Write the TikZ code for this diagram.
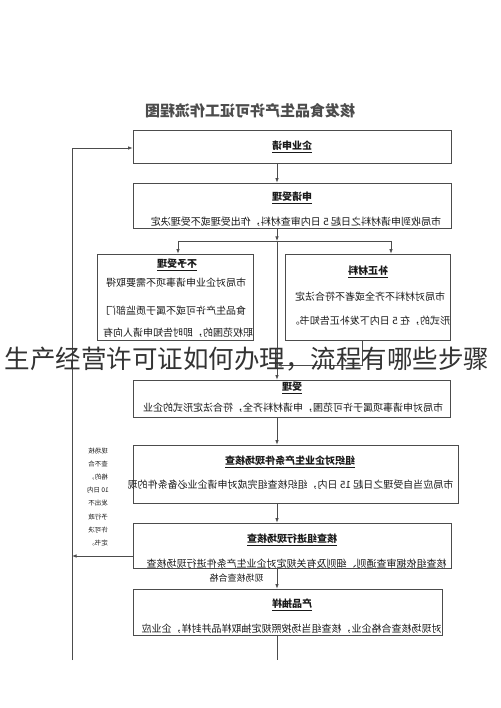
\documentclass[tikz,border=0pt]{standalone}
\usepackage{fontspec}
\usepackage{graphicx}
\usetikzlibrary{arrows.meta}
\newfontfamily\cjk{Noto Sans CJK SC}
\newcommand{\mir}[1]{\reflectbox{#1}}
\tikzstyle{box} = [rectangle, draw=black!70, line width=0.8pt, inner sep=0pt]
\tikzstyle{txt} = [inner sep=0pt, text=black!90, font=\cjk\fontsize{10}{12}\selectfont]
\tikzstyle{head} = [txt, font=\cjk\bfseries\fontsize{10}{12}\selectfont]
\tikzstyle{conn} = [draw=black!70, line width=0.7pt]
\tikzstyle{arr} = [conn, -{Latex[length=4.5pt,width=3.5pt]}]

\begin{document}
\begin{tikzpicture}[x=1pt,y=-1pt]
    \useasboundingbox (0,0) rectangle (500,708);

    \node [txt, text=black!70, font=\cjk\bfseries\fontsize{15}{18}\selectfont] (title) at (250,111) {\mir{核发食品生产许可证工作流程图}};

    % boxes
    \node [box, minimum width=318pt, minimum height=33pt] (apply) at (292,146.5) {};
    \node [box, minimum width=318pt, minimum height=45pt] (accept) at (292,205.5) {};
    \node [box, minimum width=156pt, minimum height=86pt] (reject) at (175,297) {};
    \node [box, minimum width=165pt, minimum height=86pt] (correct) at (367.5,297) {};
    \node [box, minimum width=317pt, minimum height=37pt] (grant) at (291.5,398.5) {};
    \node [box, minimum width=325pt, minimum height=58pt] (site) at (295.5,474) {};
    \node [box, minimum width=318pt, minimum height=45pt] (check) at (292,545.5) {};
    \node [box, minimum width=309pt, minimum height=46pt] (sample) at (287.5,612) {};

    % box texts
    \node [head] (apply-h) at (292,147) {\mir{\underline{企业申请}}};
    \node [head] (accept-h) at (292,198) {\mir{\underline{申请受理}}};
    \node [txt] (accept-b) at (296,222) {\mir{市局收到申请材料之日起 5 日内审查材料，作出受理或不受理决定}};
    \node [head] (reject-h) at (177,265) {\mir{\underline{不予受理}}};
    \node [txt] (reject-a) at (176,283) {\mir{市局对企业申请事项不需要取得}};
    \node [txt] (reject-b) at (176,311) {\mir{食品生产许可或不属于质监部门}};
    \node [txt] (reject-c) at (178,333) {\mir{职权范围的，即时告知申请人向有}};
    \node [head] (correct-h) at (368,272) {\mir{\underline{补正材料}}};
    \node [txt] (correct-a) at (370,297) {\mir{市局对材料不齐全或者不符合法定}};
    \node [txt] (correct-b) at (370,321) {\mir{形式的，在 5 日内下发补正告知书。}};
    \node [head] (grant-h) at (292,388) {\mir{\underline{受理}}};
    \node [txt] (grant-b) at (293,408) {\mir{市局对申请事项属于许可范围，申请材料齐全，符合法定形式的企业}};
    \node [head] (site-h) at (290,462) {\mir{\underline{组织对企业生产条件现场核查}}};
    \node [txt] (site-b) at (290.5,485) {\mir{市局应当自受理之日起 15 日内，组织核查组完成对申请企业必备条件的现}};
    \node [head] (check-h) at (292,540) {\mir{\underline{核查组进行现场核查}}};
    \node [txt] (check-b) at (296.5,564) {\mir{核查组依据审查通则、细则及有关规定对企业生产条件进行现场核查}};
    \node [head] (sample-h) at (292,605) {\mir{\underline{产品抽样}}};
    \node [txt] (sample-b) at (291.5,629) {\mir{对现场核查合格企业，核查组当场按照规定抽取样品并封样，企业应}};

    % arrow labels
    \node [txt, font=\cjk\fontsize{9}{11}\selectfont] (pass) at (236.5,578) {\mir{现场核查合格}};
    \foreach \t [count=\i] in {现场核,查不合,格的，,10 日内,发出不,予行政,许可决,定书。}
      \node [txt, font=\cjk\fontsize{6.5}{8}\selectfont] (note\i) at (98,{438+13.1*\i}) {\mir{\t}};

    % main line
    \coordinate (cx) at (277,0);
    \coordinate (split) at (277,241);
    \coordinate (splitL) at (178,241);
    \coordinate (splitR) at (391,241);
    \draw [arr] (apply.south -| cx) -- (accept.north -| cx);
    \draw [arr] (accept.south -| cx) -- (split);
    \draw [conn] (splitL) -- (splitR);
    \draw [arr] (splitL) -- (splitL |- reject.north);
    \draw [arr] (splitR) -- (splitR |- correct.north);
    \draw [arr] (split) -- (grant.north -| cx);
    \draw [arr] (grant.south -| cx) -- (site.north -| cx);
    \draw [arr] (site.south -| cx) -- (check.north -| cx);
    \draw [arr] (check.south -| cx) -- (sample.north -| cx);
    \coordinate (tail) at (277,660);
    \draw [conn] (sample.south -| cx) -- (tail);
    % correction back to main line
    \coordinate (back) at (362,365);
    \draw [arr] (correct.south -| back) -- (back) -- (back -| cx);
    % failed check, back to top
    \coordinate (loopB) at (72,660);
    \coordinate (loopT) at (72,148);
    \coordinate (fail) at (72,556);
    \draw [arr] (loopB) -- (loopT) -- (loopT -| apply.west);
    \draw [arr] (check.west |- fail) -- (fail);

    \node [inner sep=0pt, text=black!80, font=\cjk\fontsize{25.5}{30}\selectfont] (caption) at (247,359) {生产经营许可证如何办理，流程有哪些步骤};
\end{tikzpicture}
\end{document}
